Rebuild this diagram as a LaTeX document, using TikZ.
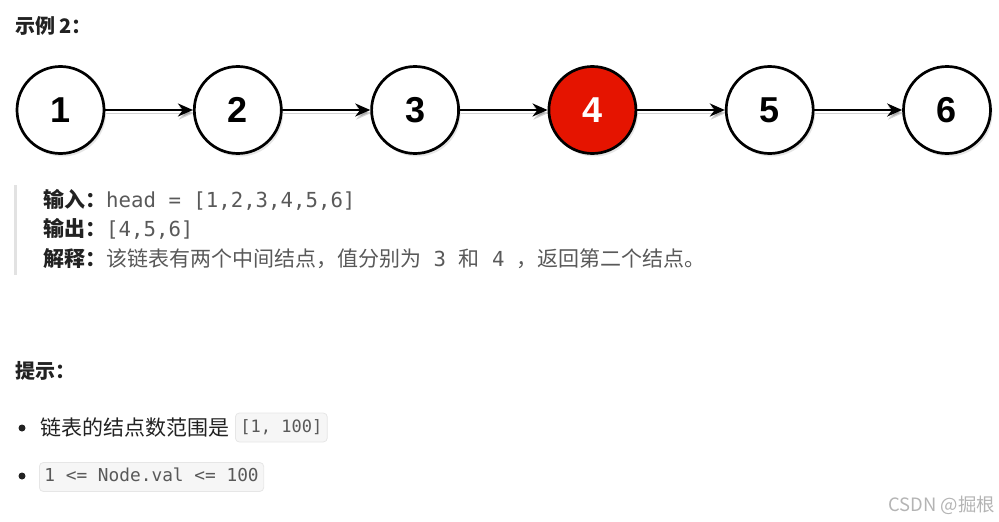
\documentclass[tikz,border=0pt]{standalone}
\usepackage{fontspec}
\setmainfont{Noto Sans CJK SC}
\newfontfamily\digitfont{Liberation Sans}
\newfontfamily\codefont{DejaVu Sans Mono}
\usepackage{tikz}
\usetikzlibrary{arrows.meta,shadows}
\usepackage{xcolor}
\definecolor{headcol}{HTML}{222222}
\definecolor{graytext}{HTML}{595959}
\definecolor{barcol}{HTML}{E2E2E2}
\definecolor{boxfill}{HTML}{F6F6F6}
\definecolor{boxline}{HTML}{E6E6E6}
\definecolor{midred}{HTML}{E51400}
\definecolor{markcol}{HTML}{B4B4B4}

\begin{document}
\begin{tikzpicture}[x=1pt,y=-1pt,>={Stealth[length=15pt,width=13pt]},line cap=round,
  listnode/.style={circle,draw=black,line width=2.7pt,fill=white,minimum size=87pt,inner sep=0pt,
    font=\digitfont\bfseries\fontsize{36}{36}\selectfont,
    drop shadow={opacity=0.2,shadow xshift=2pt,shadow yshift=-3pt}},
  midnode/.style={listnode,fill=midred,text=white},
  link/.style={->,line width=2.7pt,
    preaction={draw=black,opacity=0.18,transform canvas={shift={(1pt,-3pt)}}}},
  txt/.style={anchor=base west,inner sep=0pt,text=headcol,font=\fontsize{21}{25}\selectfont},
  headtxt/.style={txt,font=\bfseries\fontsize{20}{24}\selectfont},
  codebox/.style={anchor=west,draw=boxline,fill=boxfill,rounded corners=4pt,line width=0.8pt,
    inner xsep=5pt,inner ysep=6pt,text height=13pt,text depth=4pt,text=graytext}]
\useasboundingbox (0,0) rectangle (999,522);
\node[headtxt] (ex) at (15,34) {示例 2：};
\foreach \i/\s in {1/listnode,2/listnode,3/listnode,4/midnode,5/listnode,6/listnode}
  \node[\s] (n\i) at ({60.5+177.3*(\i-1)},110) {\i};
\foreach \i [count=\j from 2] in {1,...,5}
  \draw[link] (n\i) -- (n\j);
\fill[barcol] (14,185) rectangle (17,275);
\node[txt] (in) at (43,207) {\bfseries 输入：\mdseries{\codefont\fontsize{20.7}{25}\selectfont\color{graytext}head = [1,2,3,4,5,6]}};
\node[txt] (out) at (43,236) {\bfseries 输出：\mdseries{\codefont\fontsize{20.7}{25}\selectfont\color{graytext}[4,5,6]}};
\node[txt] (why) at (43,266) {\bfseries 解释：\mdseries{\color{graytext}该链表有两个中间结点，值分别为{\codefont\fontsize{20.7}{25}\selectfont\ 3\ }和{\codefont\fontsize{20.7}{25}\selectfont\ 4\ }，返回第二个结点。}};
\node[headtxt] (tip) at (15,378) {提示：};
\fill[headcol] (22,428) circle (3.5);
\fill[headcol] (22,476) circle (3.5);
\node[txt] (range) at (40,435) {链表的结点数范围是};
\node[codebox,font=\codefont\fontsize{17}{20}\selectfont] (c1) at (235,427.5) {[1, 100]};
\node[codebox,font=\codefont\fontsize{17.8}{20}\selectfont] (c2) at (39,477) {1 <= Node.val <= 100};
\node[anchor=base east,inner sep=0pt,text=markcol,font=\fontsize{18.4}{20}\selectfont] (mark) at (995,511) {CSDN @掘根};
\end{tikzpicture}
\end{document}
